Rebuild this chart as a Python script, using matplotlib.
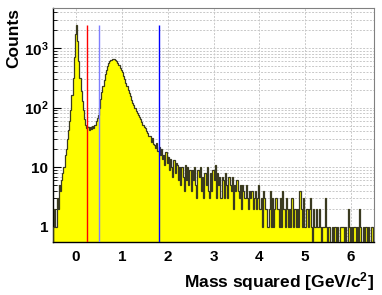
import numpy as np
import matplotlib
matplotlib.use("Agg")
from matplotlib import pyplot as plt

plt.rcParams['font.family'] = ['Liberation Sans', 'DejaVu Sans']
plt.rcParams['font.weight'] = 'bold'
plt.rcParams['mathtext.fontset'] = 'custom'
plt.rcParams['mathtext.rm'] = 'Liberation Sans:bold'
plt.rcParams['mathtext.bf'] = 'Liberation Sans:bold'
plt.rcParams['mathtext.default'] = 'bf'

# Histogram: mass squared, bins of 0.025 GeV^2/c^4 from -0.5 to 6.5
bin_lo, bin_hi, bin_w = -0.5, 6.5, 0.025
counts = [
    1, 2, 1, 3, 2, 5, 4, 6,                 # -0.5 .. -0.3
    8, 10, 16, 20,                          # -0.3 .. -0.2
    30, 42, 60, 90,                         # -0.2 .. -0.1
    160, 320, 700, 1700,                    # -0.1 .. 0.0
    2450, 1300, 600, 320,                   # 0.0 .. 0.1
    190, 130, 90, 65,
    52, 45, 47, 42,
    48, 44, 50, 46,
    52, 60, 66, 75,
    100, 140, 185, 230,                     # 0.5 .. 0.6
    290, 360, 430, 500,
    560, 610, 640, 655,
    660, 650, 630, 600,
    560, 520, 470, 430,
    390, 340, 300, 260,                     # 1.0 .. 1.1
    230, 200, 175, 155,
    135, 120, 110, 98,
    88, 80, 74, 70,
    64, 58, 52, 48,
    45, 41, 38, 34,                         # 1.5 .. 1.6
    33, 27, 31, 25,
    24, 21, 26, 19,
    22, 16, 20, 14,
    16, 11, 18, 12,
    15, 9, 14, 10,                          # 2.0 .. 2.1
    7, 13, 8, 12,
    11, 6, 10, 5,
    10, 7, 4, 11,
    6, 10, 5, 9,
    4, 9, 6, 10,                            # 2.5 .. 2.6
    5, 3, 9, 7,
    10, 4, 7, 3,
    8, 5, 10, 4,
    3, 8, 4, 9,
    6, 11, 3, 8,                            # 3.0 .. 3.1
    5, 7, 3, 7,
    6, 3, 8, 5,
    3, 7, 5, 4,
    7, 2, 5, 4,
    6, 4, 3, 5,                             # 3.5 .. 3.6
    2, 5, 4, 3,
    5, 3, 2, 4,
    3, 4, 2, 3,
    4, 2, 3, 5,
    2, 3, 1, 4,                             # 4.0 .. 4.1
    3, 2, 2, 1,
    2, 4, 1, 3,
    1, 2, 3, 2,
    2, 1, 3, 1,
    4, 2, 1, 3,                             # 4.5 .. 4.6
    2, 1, 2, 1,
    3, 1, 2, 2,
    1, 2, 1, 4,
    2, 1, 3, 1,
    1, 2, 1, 2,                             # 5.0 .. 5.1
    3, 1, 0, 2,
    1, 2, 1, 1,
    2, 1, 0, 1,
    1, 3, 1, 0,
    1, 1, 0, 1,                             # 5.5 .. 5.6
    0, 1, 1, 0,
    1, 0, 1, 1,
    1, 1, 0, 1,
    0, 2, 1, 0,
    1, 0, 1, 1,                             # 6.0 .. 6.1
    0, 1, 0, 2,
    1, 0, 1, 0,
    1, 1, 0, 1,
    0, 1, 1, 0,
]

# cut lines
cut_x = [0.25, 0.5, 1.8]
cut_colors = ['#ff0000', '#7f7fff', '#0000ff']

x_ticks = [0, 1, 2, 3, 4, 5, 6]
y_ticks = [1, 10, 100, 1000]
y_ticklabels = ['1', '10', r'$10^{2}$', r'$10^{3}$']

counts = np.array(counts, dtype=float)
edges = np.linspace(bin_lo, bin_hi, len(counts) + 1)
shown = np.maximum(counts, 0.1)  # zeros can't sit on a log axis

fig = plt.figure(figsize=(3.82, 2.95), dpi=100)
ax = fig.add_axes([0.139, 0.180, 0.840, 0.793])
ax.set_yscale('log')

# grid first, histogram on top
ax.grid(True, which='major', axis='x', color='#c8c8c8', linestyle=(0, (2, 1.5)), linewidth=0.7)
ax.grid(True, which='both', axis='y', color='#c8c8c8', linestyle=(0, (2, 1.5)), linewidth=0.7)
ax.set_axisbelow(True)

ax.stairs(shown, edges, baseline=0.1, fill=True, color='#ffff00', zorder=2)
ax.stairs(shown, edges, baseline=0.1, color='#3a3a20', linewidth=0.9, zorder=3)

ax.vlines(cut_x, 0.1, counts.max(), colors=cut_colors, linewidth=1.0, zorder=4)

ax.set_xlim(bin_lo, bin_hi)
ax.set_ylim(0.56, 4700)

ax.set_xticks(x_ticks)
ax.set_xticks(np.arange(-0.4, 6.5, 0.2), minor=True)
ax.set_yticks(y_ticks)
ax.set_yticklabels(y_ticklabels)
ax.tick_params(which='both', direction='in', top=False, right=False, labelsize=11)
ax.tick_params(which='major', length=6, width=0.8)
ax.tick_params(which='minor', length=3, width=0.6)
ax.tick_params(axis='x', pad=6)

for side in ['top', 'right']:
    ax.spines[side].set_color('#808080')
for side in ['left', 'bottom']:
    ax.spines[side].set_color('black')
    ax.spines[side].set_linewidth(1.0)

ax.set_xlabel(r'Mass squared [GeV/c$^{2}$]', fontsize=12.5, fontweight='bold', loc='right', labelpad=4)
ax.set_ylabel('Counts', fontsize=12.5, fontweight='bold', loc='top', labelpad=2)

fig.savefig('out.png', dpi=100)
